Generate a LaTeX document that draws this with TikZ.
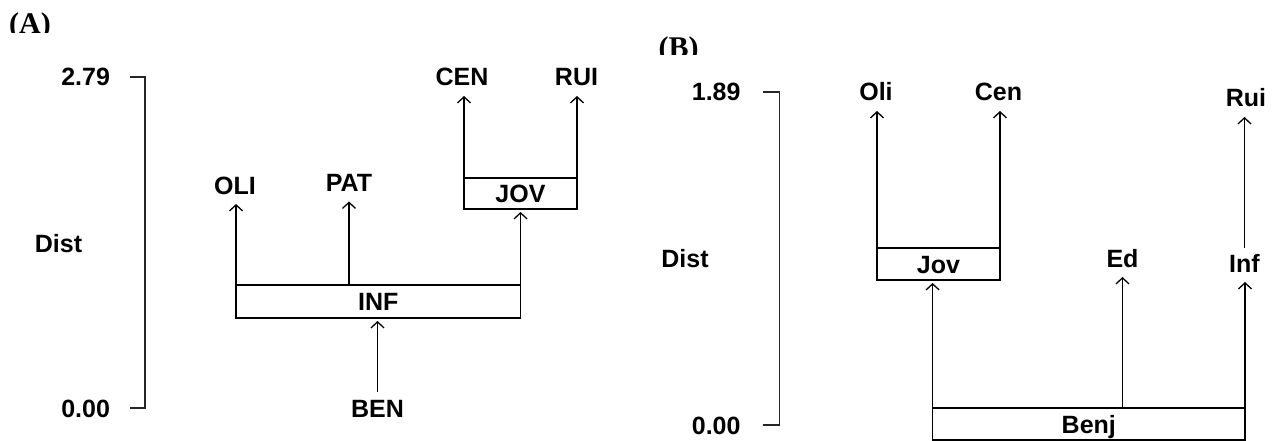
\documentclass[tikz,border=0pt]{standalone}
\usepackage{fontspec}
\newfontfamily\labfont{Liberation Sans}
\newfontfamily\panfont{Liberation Serif}
\usetikzlibrary{arrows.meta}

\begin{document}
\begin{tikzpicture}[x=1pt,y=-1pt,
  lab/.style={font=\labfont\bfseries\fontsize{25}{25}\selectfont,
    inner sep=0pt, outer sep=0pt, text height=18pt, text depth=0pt},
  box/.style={lab, draw, line width=1.6pt},
  pan/.style={font=\panfont\bfseries\fontsize{30}{30}\selectfont, inner sep=0pt},
  axis/.style={line width=1.7pt, draw=black!85},
  arr/.style={line width=1.5pt, -{Straight Barb[length=6pt,width=13pt,line width=1.3pt]}, shorten >=10pt},
  arrbox/.style={arr, shorten >=3pt}]
\useasboundingbox (0,0) rectangle (1274,441);

% ---------------- panel (A) ----------------
\begin{scope}
  \clip (0,0) rectangle (120,32.5);
  \node[pan, anchor=base west] (pa) at (9,33.5) {(A)};
\end{scope}

\node[lab, anchor=east] (a279) at (110,77) {2.79};
\node[lab, anchor=east] (a000) at (110,408) {0.00};
\node[lab] (adist) at (58.5,243) {Dist};
\draw[axis] ([xshift=20pt]a279.east) -- ([xshift=35pt]a279.east)
  -- ([xshift=35pt]a000.east) -- ([xshift=20pt]a000.east);

\node[lab] (oli) at (235,185) {OLI};
\node[lab] (pat) at (349,182.5) {PAT};
\node[lab] (cen) at (462,77) {CEN};
\node[lab] (rui) at (576.5,77) {RUI};
\node[lab] (ben) at (377.5,408) {BEN};
\node[box, minimum width=284.5pt, minimum height=33pt] (inf) at (378.3,301.5) {INF};
\node[box, minimum width=113pt, minimum height=31pt] (jov) at (520.5,193.5) {JOV};

\draw[arr] (inf.north west) -- (inf.north west |- oli.south);
\draw[arr] (pat.south |- inf.north) -- (pat.south);
\draw[arrbox] (inf.north east) -- (inf.north east |- jov.south);
\draw[arrbox] ([yshift=7.5pt]ben.north) -- (ben.north |- inf.south);
\draw[arr] (jov.north west) -- (jov.north west |- cen.south);
\draw[arr] (jov.north east) -- (jov.north east |- rui.south);

% ---------------- panel (B) ----------------
\begin{scope}
  \clip (640,0) rectangle (760,55);
  \node[pan, anchor=base west] (pb) at (658.5,57.4) {(B)};
\end{scope}

\node[lab, anchor=east] (b189) at (740.5,92) {1.89};
\node[lab, anchor=east] (b000) at (740.5,425) {0.00};
\node[lab] (bdist) at (685,258) {Dist};
\draw[axis] ([xshift=22.5pt]b189.east) -- ([xshift=39pt]b189.east)
  -- ([xshift=39pt]b000.east) -- ([xshift=22.5pt]b000.east);

\node[lab] (boli) at (876,92) {Oli};
\node[lab] (bcen) at (998.5,92) {Cen};
\node[lab] (brui) at (1246,98) {Rui};
\node[lab] (bed) at (1122.5,258) {Ed};
\node[lab] (binf) at (1244.5,263) {Inf};
\node[box, minimum width=123pt, minimum height=32pt] (bjov) at (938.5,264) {Jov};
\node[box, minimum width=312.4pt, minimum height=32pt] (benj) at (1088.8,424) {Benj};

\draw[arr] (bjov.north west) -- (bjov.north west |- boli.south);
\draw[arr] (bjov.north east) -- (bjov.north east |- bcen.south);
\draw[arrbox] (benj.north west) -- (benj.north west |- bjov.south);
\draw[arr] (bed.south |- benj.north) -- (bed.south);
\draw[arr] (benj.north east) -- (benj.north east |- binf.south);
\draw[arr] ([yshift=6.5pt]binf.north) -- (binf.north |- brui.south);
\end{tikzpicture}
\end{document}
